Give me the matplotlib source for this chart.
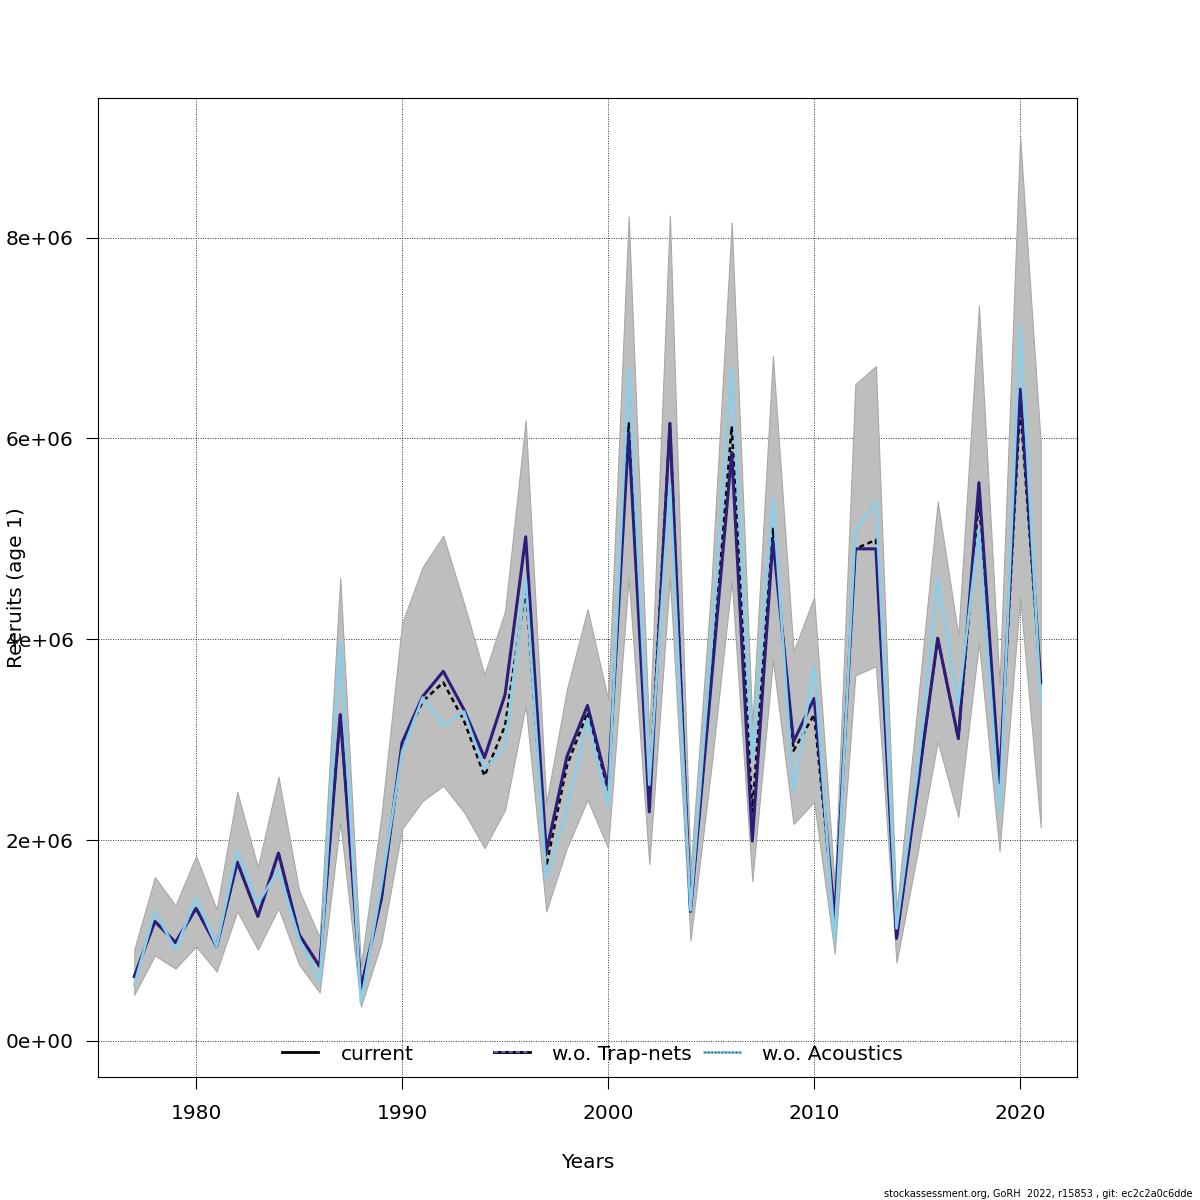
import matplotlib
matplotlib.use("Agg")
import matplotlib.pyplot as plt
from matplotlib.lines import Line2D
from matplotlib.legend import Legend
import numpy as np

# recruitment estimates, millions
years = list(range(1977, 2022))
current = [0.64, 1.19, 0.98, 1.32, 0.94, 1.78, 1.24, 1.87, 1.06, 0.74,
           3.25, 0.52, 1.42, 2.95, 3.38, 3.57, 3.19, 2.64, 3.14, 4.51,
           1.74, 2.74, 3.27, 2.50, 6.15, 2.43, 6.15, 1.29, 3.60, 6.12,
           2.28, 5.10, 2.89, 3.25, 1.22, 4.90, 4.99, 1.02, 2.50, 4.01,
           3.01, 5.40, 2.57, 6.33, 3.55]
trapnets = [0.64, 1.19, 0.98, 1.32, 0.94, 1.78, 1.24, 1.87, 1.06, 0.74,
            3.25, 0.52, 1.42, 2.97, 3.43, 3.68, 3.30, 2.82, 3.45, 5.02,
            1.88, 2.83, 3.34, 2.53, 6.05, 2.28, 6.15, 1.29, 3.55, 5.86,
            1.99, 4.99, 2.98, 3.41, 1.22, 4.90, 4.90, 1.02, 2.50, 4.01,
            3.01, 5.56, 2.57, 6.49, 3.58]
acoustics = [0.56, 1.29, 0.91, 1.42, 0.94, 1.89, 1.37, 1.70, 1.02, 0.58,
             3.97, 0.38, 1.55, 2.88, 3.42, 3.14, 3.28, 2.70, 2.94, 4.60,
             1.61, 2.32, 3.21, 2.34, 6.70, 2.55, 5.55, 1.30, 3.90, 6.70,
             2.81, 5.40, 2.48, 3.74, 0.99, 5.08, 5.37, 1.12, 2.65, 4.59,
             3.35, 5.10, 2.27, 7.12, 3.38]
ci_low = [0.46, 0.85, 0.72, 0.94, 0.69, 1.29, 0.91, 1.32, 0.76, 0.48,
          2.18, 0.34, 0.98, 2.11, 2.39, 2.54, 2.28, 1.92, 2.30, 3.34,
          1.29, 1.92, 2.40, 1.92, 4.61, 1.76, 4.61, 1.00, 2.70, 4.58,
          1.59, 3.79, 2.16, 2.38, 0.87, 3.64, 3.73, 0.78, 1.85, 2.98,
          2.23, 3.96, 1.89, 4.42, 2.13]
ci_high = [0.91, 1.63, 1.35, 1.84, 1.31, 2.48, 1.73, 2.63, 1.50, 1.03,
           4.61, 0.75, 2.25, 4.16, 4.72, 5.03, 4.36, 3.65, 4.28, 6.18,
           2.37, 3.50, 4.30, 3.40, 8.21, 3.05, 8.22, 1.70, 4.50, 8.15,
           3.15, 6.82, 3.88, 4.42, 1.55, 6.54, 6.72, 1.30, 3.30, 5.37,
           4.04, 7.32, 3.55, 9.00, 5.95]

x_ticks = [1980, 1990, 2000, 2010, 2020]
y_ticks = [0, 2e6, 4e6, 6e6, 8e6]
y_tick_labels = ["0e+00", "2e+06", "4e+06", "6e+06", "8e+06"]
legend_labels = ["current", "w.o. Trap-nets", "w.o. Acoustics"]

navy = "#2c1c7c"
sky = "#87ceeb"
fs = 14.5

scale = 1e6
cur = np.array(current) * scale
trp = np.array(trapnets) * scale
aco = np.array(acoustics) * scale
lo = np.array(ci_low) * scale
hi = np.array(ci_high) * scale

fig = plt.figure(figsize=(12, 12), dpi=100)
ax = fig.add_axes([98 / 1200, 1 - 1077 / 1200, 979 / 1200, 979 / 1200])

ax.fill_between(years, lo, hi, facecolor="#bebebe", edgecolor="#a8a8a8", linewidth=0.8, zorder=1)
ax.plot(years, cur, color="black", lw=1.8, ls=(0, (2, 1.5)), zorder=3)
ax.plot(years, trp, color=navy, lw=2.2, zorder=4)
ax.plot(years, aco, color=sky, lw=1.9, zorder=5)

ax.set_xlim(1975.24, 2022.76)
ax.set_ylim(-0.36e6, 9.39e6)
ax.set_xticks(x_ticks)
ax.set_yticks(y_ticks)
ax.set_yticklabels(y_tick_labels)
ax.grid(True, color="#333333", ls=(0, (1, 1.5)), lw=0.7, zorder=0)
ax.set_axisbelow(True)
ax.tick_params(direction="out", length=8.6, width=0.8, labelsize=fs, colors="black")
ax.tick_params(axis="x", pad=11)
ax.tick_params(axis="y", pad=9)
for s in ax.spines.values():
    s.set_linewidth(0.8)

fig.text(17 / 1200, 1 - 588 / 1200, "Recruits (age 1)", rotation=90, ha="center", va="center", fontsize=fs)
fig.text(588 / 1200, 1 - 1162 / 1200, "Years", ha="center", va="center", fontsize=fs)

# legend: three evenly spaced entries like R's legend
handles = [
    Line2D([], [], color="black", lw=2),
    (Line2D([], [], color="black", lw=2), Line2D([], [], color="#6a5acd", lw=1.5, ls=(0, (2, 1.5)))),
    (Line2D([], [], color=sky, lw=2), Line2D([], [], color="#333333", lw=1, ls=(0, (1, 1.5)))),
]
starts = [285, 497, 707]
for h, lab, xs in zip(handles, legend_labels, starts):
    lg = Legend(ax, [h], [lab], loc="center left",
                bbox_to_anchor=((xs - 98 - 9) / 979, (1077 - 1054) / 979),
                frameon=False, fontsize=fs, handlelength=1.8, handletextpad=1.1,
                borderaxespad=0, borderpad=0.3)
    ax.add_artist(lg)

fig.text(1193 / 1200, 1 - 1194 / 1200, "stockassessment.org, GoRH  2022, r15853 , git: ec2c2a0c6dde",
         ha="right", va="center", fontsize=7)

fig.savefig("out.png", dpi=100)
